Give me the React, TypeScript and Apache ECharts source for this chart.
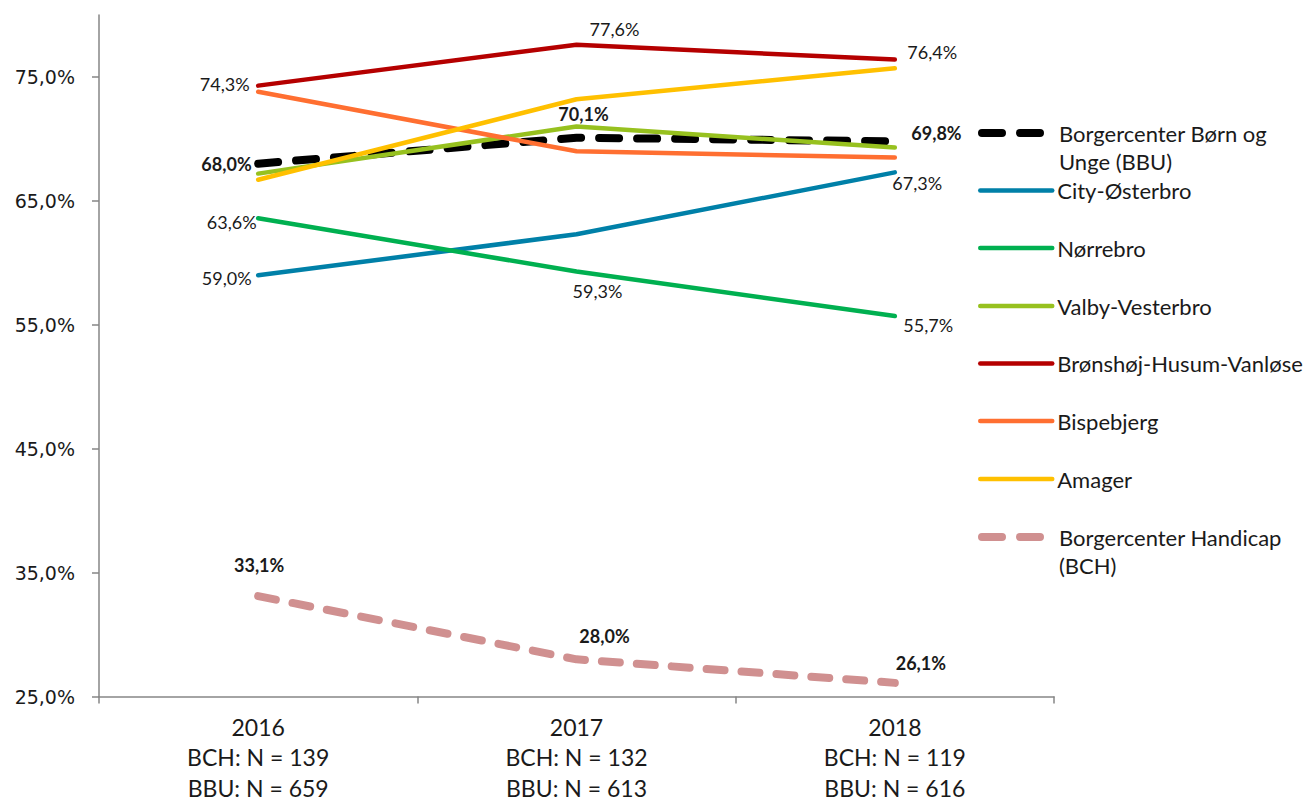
import React, { useEffect, useRef } from "react";
import * as echarts from "echarts";

const years = ["2016", "2017", "2018"];
const bchN = [139, 132, 119];
const bbuN = [659, 613, 616];

const seriesNames = [
  "Borgercenter Børn og Unge (BBU)",
  "City-Østerbro",
  "Nørrebro",
  "Valby-Vesterbro",
  "Brønshøj-Husum-Vanløse",
  "Bispebjerg",
  "Amager",
  "Borgercenter Handicap (BCH)",
];
const legendLabels = [
  "Borgercenter Børn og\nUnge (BBU)",
  "City-Østerbro",
  "Nørrebro",
  "Valby-Vesterbro",
  "Brønshøj-Husum-Vanløse",
  "Bispebjerg",
  "Amager",
  "Borgercenter Handicap\n(BCH)",
];

const bbu = [68.0, 70.1, 69.8];
const city = [59.0, 62.3, 67.3];
const norrebro = [63.6, 59.3, 55.7];
const valby = [67.2, 71.0, 69.3];
const bronshoj = [74.3, 77.6, 76.4];
const bispebjerg = [73.8, 69.0, 68.5];
const amager = [66.7, 73.2, 75.7];
const bch = [33.1, 28.0, 26.1];

const yTicks = [25, 35, 45, 55, 65, 75];

const values = [bbu, city, norrebro, valby, bronshoj, bispebjerg, amager, bch];
const colors = ["#000000", "#0080A8", "#00B050", "#97C11F", "#B50000", "#FF6F31", "#FFC000", "#D09090"];

type L = [string, number, number, number] | null;
// [position, distance, dx, dy]
const labelCfg: L[][] = [
  [["left", 6, 0, 0], ["top", 14, 7, 0], ["right", 16, 0, -8]],
  [["left", 6, 0, 3], null, ["right", 0, -3, 11]],
  [["left", 1, 0, 4], ["bottom", 10, 21, 0], ["right", 8, 0, 9]],
  [null, null, null],
  [["left", 8, 0, -2], ["top", 6, 38, 0], ["right", 12, 0, -8]],
  [null, null, null],
  [null, null, null],
  [["top", 22, 1, 0], ["top", 14, 28, 0], ["top", 10, 26, 0]],
];
const boldSeries = [true, false, false, false, false, false, false, true];
const dashedSeries = [true, false, false, false, false, false, false, true];

const fmt = (v: number) => v.toFixed(1).replace(".", ",") + "%";
const FONT = "Lato, 'Open Sans', sans-serif";

export default function App() {
  const ref = useRef<HTMLDivElement>(null);
  useEffect(() => {
    document.body.style.margin = "0";
    const chart = echarts.init(ref.current!, null, { renderer: "svg" });

    const series = seriesNames.map((name, i) => ({
      type: "line",
      name,
      symbol: "circle",
      symbolSize: 1,
      itemStyle: { color: "rgba(0,0,0,0)", borderWidth: 0 },
      lineStyle: {
        color: colors[i],
        width: dashedSeries[i] ? 8 : 4.5,
        type: dashedSeries[i] ? (i === 0 ? [20, 18] : [18, 17]) : "solid",
        cap: "round",
        join: "round",
      },
      emphasis: { disabled: true },
      data: values[i].map((v, j) => {
        const c = labelCfg[i][j];
        return {
          value: v,
          label: c
            ? {
                show: true,
                position: c[0],
                distance: c[1],
                offset: [c[2], c[3]],
                formatter: (p: any) => fmt(p.value),
                fontFamily: FONT,
                fontSize: 18,
                fontWeight: boldSeries[i] ? "bold" : "normal",
                color: "#1a1a1a",
              }
            : { show: false },
        };
      }),
    }));

    const legendY = [133, 190.5, 248, 306, 363.5, 421, 479, 537];
    const legends = seriesNames.map((name, i) => {
      const twoLine = legendLabels[i].includes("\n");
      return {
        data: [name],
        orient: "vertical",
        left: 978,
        top: twoLine ? legendY[i] - 42 : legendY[i] - 14,
        padding: 0,
        itemWidth: 72,
        itemHeight: 14,
        selectedMode: false,
        itemStyle: { opacity: 0 },
        lineStyle: {
          width: dashedSeries[i] ? 8 : 4.5,
          type: dashedSeries[i] ? [20, 18] : "solid",
          color: colors[i],
        },
        formatter: () => (twoLine ? "\n" + legendLabels[i] : legendLabels[i]),
        textStyle: {
          fontFamily: FONT,
          fontSize: 22,
          color: "#1a1a1a",
          lineHeight: 28,
        },
      };
    });

    chart.setOption({
      animation: false,
      backgroundColor: "#ffffff",
      grid: { left: 99, right: 255, top: 15, bottom: 106, containLabel: false },
      legend: legends,
      xAxis: {
        type: "category",
        data: years,
        boundaryGap: true,
        axisLine: { lineStyle: { color: "#868686", width: 1.5 } },
        axisTick: { show: true, length: 7, lineStyle: { color: "#868686", width: 1.5 } },
        axisLabel: {
          margin: 15,
          fontFamily: FONT,
          fontSize: 23,
          lineHeight: 30.5,
          color: "#1a1a1a",
          formatter: (v: string, idx: number) =>
            `${v}\nBCH: N = ${bchN[idx]}\nBBU: N = ${bbuN[idx]}`,
        },
        splitLine: { show: false },
      },
      yAxis: {
        type: "value",
        min: 25,
        max: 80,
        interval: 10,
        axisLine: { show: true, lineStyle: { color: "#868686", width: 1.5 } },
        axisTick: {
          show: true,
          length: 7,
          customValues: yTicks,
          lineStyle: { color: "#868686", width: 1.5 },
        },
        axisLabel: {
          margin: 24,
          customValues: yTicks,
          fontFamily: "'DejaVu Sans', sans-serif",
          fontSize: 19,
          color: "#1a1a1a",
          formatter: (v: number) => fmt(v),
        },
        splitLine: { show: false },
      },
      series,
    } as any);
    return () => chart.dispose();
  }, []);
  return <div ref={ref} style={{ width: 1309, height: 803 }} />;
}
